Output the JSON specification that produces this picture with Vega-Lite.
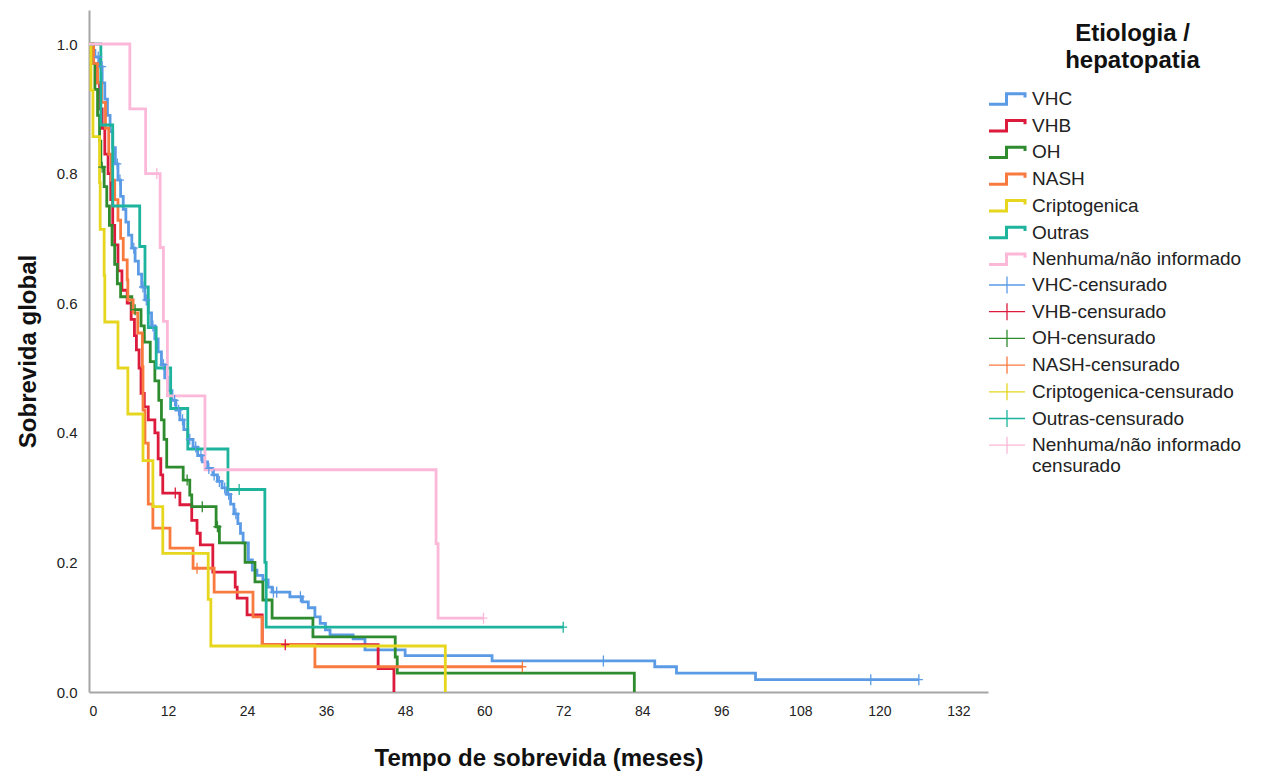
{
  "$schema": "https://vega.github.io/schema/vega-lite/v6.json",
  "autosize": "none",
  "width": 899,
  "height": 682,
  "padding": {"left": 89, "top": 10, "right": 263, "bottom": 79},
  "background": "white",
  "config": {
    "view": {"stroke": null},
    "font": "Liberation Sans",
    "axis": {"grid": false, "ticks": false, "domainColor": "#a6a6a6", "domainWidth": 2, "labelColor": "#222222", "labelFont": "Liberation Sans", "titleFont": "Liberation Sans", "titleFontWeight": "bold", "titleColor": "#111111", "titleFontSize": 24}
  },
  "datasets": {
    "curvas": [
      {"g":"VHC","t":0,"s":1},{"g":"VHC","t":0.5,"s":0.99},{"g":"VHC","t":0.9,"s":0.98},{"g":"VHC","t":1.5,"s":0.965},{"g":"VHC","t":2.0,"s":0.94},{"g":"VHC","t":2.4,"s":0.915},{"g":"VHC","t":2.8,"s":0.89},{"g":"VHC","t":3.2,"s":0.865},{"g":"VHC","t":3.6,"s":0.84},{"g":"VHC","t":4.0,"s":0.815},{"g":"VHC","t":4.4,"s":0.79},{"g":"VHC","t":4.8,"s":0.765},{"g":"VHC","t":5.2,"s":0.745},{"g":"VHC","t":5.6,"s":0.725},{"g":"VHC","t":6.0,"s":0.705},{"g":"VHC","t":6.5,"s":0.685},{"g":"VHC","t":7.0,"s":0.665},{"g":"VHC","t":7.5,"s":0.645},{"g":"VHC","t":8.0,"s":0.625},{"g":"VHC","t":8.5,"s":0.605},{"g":"VHC","t":9.0,"s":0.585},{"g":"VHC","t":9.5,"s":0.565},{"g":"VHC","t":10.0,"s":0.545},{"g":"VHC","t":10.5,"s":0.525},{"g":"VHC","t":11.0,"s":0.505},{"g":"VHC","t":11.5,"s":0.485},{"g":"VHC","t":12.0,"s":0.465},{"g":"VHC","t":12.6,"s":0.45},{"g":"VHC","t":13.2,"s":0.435},{"g":"VHC","t":13.8,"s":0.42},{"g":"VHC","t":14.4,"s":0.405},{"g":"VHC","t":15.0,"s":0.39},{"g":"VHC","t":15.8,"s":0.378},{"g":"VHC","t":16.5,"s":0.365},{"g":"VHC","t":17.2,"s":0.355},{"g":"VHC","t":18.0,"s":0.345},{"g":"VHC","t":18.8,"s":0.335},{"g":"VHC","t":19.5,"s":0.325},{"g":"VHC","t":20.2,"s":0.315},{"g":"VHC","t":20.9,"s":0.305},{"g":"VHC","t":21.5,"s":0.29},{"g":"VHC","t":22.0,"s":0.275},{"g":"VHC","t":22.6,"s":0.26},{"g":"VHC","t":23.0,"s":0.245},{"g":"VHC","t":23.4,"s":0.23},{"g":"VHC","t":24.2,"s":0.204},{"g":"VHC","t":24.8,"s":0.188},{"g":"VHC","t":25.5,"s":0.18},{"g":"VHC","t":26.4,"s":0.173},{"g":"VHC","t":27.2,"s":0.162},{"g":"VHC","t":27.8,"s":0.154},{"g":"VHC","t":30.5,"s":0.147},{"g":"VHC","t":32.4,"s":0.139},{"g":"VHC","t":33.3,"s":0.13},{"g":"VHC","t":34.3,"s":0.116},{"g":"VHC","t":35.1,"s":0.106},{"g":"VHC","t":35.9,"s":0.096},{"g":"VHC","t":36.6,"s":0.088},{"g":"VHC","t":40.1,"s":0.082},{"g":"VHC","t":41.9,"s":0.065},{"g":"VHC","t":48.0,"s":0.056},{"g":"VHC","t":61.2,"s":0.048},{"g":"VHC","t":85.9,"s":0.039},{"g":"VHC","t":89.2,"s":0.029},{"g":"VHC","t":101.2,"s":0.019},{"g":"VHC","t":126.0,"s":0.019},
      {"g":"VHB","t":0,"s":1},{"g":"VHB","t":0.6,"s":0.97},{"g":"VHB","t":1.1,"s":0.94},{"g":"VHB","t":1.6,"s":0.9},{"g":"VHB","t":2.0,"s":0.87},{"g":"VHB","t":2.4,"s":0.83},{"g":"VHB","t":2.9,"s":0.8},{"g":"VHB","t":3.3,"s":0.76},{"g":"VHB","t":3.6,"s":0.72},{"g":"VHB","t":3.9,"s":0.69},{"g":"VHB","t":4.4,"s":0.65},{"g":"VHB","t":5.0,"s":0.62},{"g":"VHB","t":5.8,"s":0.6},{"g":"VHB","t":6.4,"s":0.575},{"g":"VHB","t":6.9,"s":0.55},{"g":"VHB","t":7.2,"s":0.528},{"g":"VHB","t":7.6,"s":0.5},{"g":"VHB","t":7.9,"s":0.461},{"g":"VHB","t":8.4,"s":0.44},{"g":"VHB","t":9.0,"s":0.42},{"g":"VHB","t":10.0,"s":0.4},{"g":"VHB","t":10.5,"s":0.36},{"g":"VHB","t":10.9,"s":0.335},{"g":"VHB","t":11.2,"s":0.307},{"g":"VHB","t":13.8,"s":0.289},{"g":"VHB","t":15.6,"s":0.265},{"g":"VHB","t":16.4,"s":0.245},{"g":"VHB","t":16.9,"s":0.227},{"g":"VHB","t":18.8,"s":0.185},{"g":"VHB","t":22.2,"s":0.162},{"g":"VHB","t":22.5,"s":0.145},{"g":"VHB","t":24.0,"s":0.119},{"g":"VHB","t":26.3,"s":0.073},{"g":"VHB","t":43.9,"s":0.036},{"g":"VHB","t":46.3,"s":0},
      {"g":"OH","t":0,"s":1},{"g":"OH","t":0.5,"s":0.97},{"g":"OH","t":0.9,"s":0.93},{"g":"OH","t":1.3,"s":0.89},{"g":"OH","t":1.6,"s":0.85},{"g":"OH","t":1.8,"s":0.81},{"g":"OH","t":2.3,"s":0.78},{"g":"OH","t":2.7,"s":0.75},{"g":"OH","t":3.1,"s":0.72},{"g":"OH","t":3.5,"s":0.69},{"g":"OH","t":3.9,"s":0.66},{"g":"OH","t":4.3,"s":0.63},{"g":"OH","t":4.8,"s":0.61},{"g":"OH","t":6.5,"s":0.59},{"g":"OH","t":7.9,"s":0.565},{"g":"OH","t":8.4,"s":0.54},{"g":"OH","t":9.3,"s":0.51},{"g":"OH","t":10.0,"s":0.48},{"g":"OH","t":10.6,"s":0.45},{"g":"OH","t":11.0,"s":0.42},{"g":"OH","t":11.4,"s":0.39},{"g":"OH","t":11.8,"s":0.347},{"g":"OH","t":14.3,"s":0.327},{"g":"OH","t":15.3,"s":0.304},{"g":"OH","t":15.6,"s":0.286},{"g":"OH","t":19.3,"s":0.255},{"g":"OH","t":19.8,"s":0.23},{"g":"OH","t":23.7,"s":0.2},{"g":"OH","t":25.2,"s":0.17},{"g":"OH","t":26.4,"s":0.142},{"g":"OH","t":27.8,"s":0.114},{"g":"OH","t":34.0,"s":0.085},{"g":"OH","t":46.5,"s":0.054},{"g":"OH","t":46.8,"s":0.029},{"g":"OH","t":82.8,"s":0},
      {"g":"NASH","t":0,"s":1},{"g":"NASH","t":0.7,"s":0.97},{"g":"NASH","t":1.3,"s":0.94},{"g":"NASH","t":1.9,"s":0.91},{"g":"NASH","t":2.5,"s":0.87},{"g":"NASH","t":3.0,"s":0.83},{"g":"NASH","t":3.4,"s":0.79},{"g":"NASH","t":3.9,"s":0.76},{"g":"NASH","t":4.4,"s":0.728},{"g":"NASH","t":4.8,"s":0.7},{"g":"NASH","t":5.2,"s":0.667},{"g":"NASH","t":5.8,"s":0.636},{"g":"NASH","t":5.9,"s":0.605},{"g":"NASH","t":6.7,"s":0.585},{"g":"NASH","t":7.4,"s":0.554},{"g":"NASH","t":8.1,"s":0.502},{"g":"NASH","t":8.2,"s":0.435},{"g":"NASH","t":8.5,"s":0.384},{"g":"NASH","t":9.0,"s":0.29},{"g":"NASH","t":9.7,"s":0.253},{"g":"NASH","t":12.3,"s":0.222},{"g":"NASH","t":15.8,"s":0.191},{"g":"NASH","t":19.0,"s":0.154},{"g":"NASH","t":24.9,"s":0.116},{"g":"NASH","t":26.3,"s":0.073},{"g":"NASH","t":34.3,"s":0.039},{"g":"NASH","t":65.8,"s":0.039},
      {"g":"Criptogenica","t":0,"s":1},{"g":"Criptogenica","t":0.3,"s":0.929},{"g":"Criptogenica","t":0.6,"s":0.857},{"g":"Criptogenica","t":1.6,"s":0.786},{"g":"Criptogenica","t":1.7,"s":0.714},{"g":"Criptogenica","t":2.3,"s":0.643},{"g":"Criptogenica","t":2.4,"s":0.571},{"g":"Criptogenica","t":4.4,"s":0.5},{"g":"Criptogenica","t":5.9,"s":0.429},{"g":"Criptogenica","t":8.2,"s":0.357},{"g":"Criptogenica","t":9.7,"s":0.286},{"g":"Criptogenica","t":11.2,"s":0.214},{"g":"Criptogenica","t":18.1,"s":0.143},{"g":"Criptogenica","t":18.5,"s":0.071},{"g":"Criptogenica","t":54.1,"s":0},
      {"g":"Outras","t":0,"s":1},{"g":"Outras","t":1.8,"s":0.875},{"g":"Outras","t":3.6,"s":0.75},{"g":"Outras","t":7.7,"s":0.6875},{"g":"Outras","t":8.5,"s":0.625},{"g":"Outras","t":9.0,"s":0.5625},{"g":"Outras","t":10.2,"s":0.5},{"g":"Outras","t":12.4,"s":0.4375},{"g":"Outras","t":15.0,"s":0.375},{"g":"Outras","t":21.1,"s":0.3125},{"g":"Outras","t":26.7,"s":0.2},{"g":"Outras","t":26.9,"s":0.1},{"g":"Outras","t":72.0,"s":0.1},
      {"g":"Nenhuma/não informado","t":0,"s":1},{"g":"Nenhuma/não informado","t":6.2,"s":0.9},{"g":"Nenhuma/não informado","t":8.6,"s":0.8},{"g":"Nenhuma/não informado","t":10.8,"s":0.686},{"g":"Nenhuma/não informado","t":11.3,"s":0.572},{"g":"Nenhuma/não informado","t":11.9,"s":0.457},{"g":"Nenhuma/não informado","t":17.6,"s":0.343},{"g":"Nenhuma/não informado","t":52.7,"s":0.229},{"g":"Nenhuma/não informado","t":53.0,"s":0.114},{"g":"Nenhuma/não informado","t":59.9,"s":0.114}
    ],
    "censuras": [
      {"g":"VHC-censurado","t":1.4,"s":0.98},{"g":"VHC-censurado","t":2.0,"s":0.965},{"g":"VHC-censurado","t":4.3,"s":0.815},{"g":"VHC-censurado","t":4.7,"s":0.79},{"g":"VHC-censurado","t":6.8,"s":0.685},{"g":"VHC-censurado","t":8.2,"s":0.625},{"g":"VHC-censurado","t":8.7,"s":0.605},{"g":"VHC-censurado","t":9.7,"s":0.565},{"g":"VHC-censurado","t":11.3,"s":0.505},{"g":"VHC-censurado","t":13.0,"s":0.45},{"g":"VHC-censurado","t":13.6,"s":0.435},{"g":"VHC-censurado","t":14.2,"s":0.42},{"g":"VHC-censurado","t":15.3,"s":0.39},{"g":"VHC-censurado","t":16.2,"s":0.378},{"g":"VHC-censurado","t":17.0,"s":0.365},{"g":"VHC-censurado","t":18.2,"s":0.345},{"g":"VHC-censurado","t":19.0,"s":0.335},{"g":"VHC-censurado","t":19.8,"s":0.325},{"g":"VHC-censurado","t":20.6,"s":0.315},{"g":"VHC-censurado","t":21.2,"s":0.305},{"g":"VHC-censurado","t":22.3,"s":0.275},{"g":"VHC-censurado","t":28.0,"s":0.154},{"g":"VHC-censurado","t":28.5,"s":0.154},{"g":"VHC-censurado","t":32.1,"s":0.147},{"g":"VHC-censurado","t":78.1,"s":0.048},{"g":"VHC-censurado","t":118.7,"s":0.019},{"g":"VHC-censurado","t":126.0,"s":0.019},
      {"g":"VHB-censurado","t":13.1,"s":0.307},{"g":"VHB-censurado","t":29.8,"s":0.073},
      {"g":"OH-censurado","t":2.0,"s":0.81},{"g":"OH-censurado","t":7.0,"s":0.59},{"g":"OH-censurado","t":14.9,"s":0.327},{"g":"OH-censurado","t":17.2,"s":0.286},{"g":"OH-censurado","t":19.5,"s":0.255},
      {"g":"NASH-censurado","t":16.4,"s":0.191},{"g":"NASH-censurado","t":65.8,"s":0.039},
      {"g":"Outras-censurado","t":22.8,"s":0.3125},{"g":"Outras-censurado","t":72.0,"s":0.1},
      {"g":"Nenhuma/não informado-censurado","t":10.3,"s":0.8},{"g":"Nenhuma/não informado-censurado","t":59.9,"s":0.114}
    ]
  },
  "encoding": {
    "x": {"field": "t", "type": "quantitative", "scale": {"domain": [0, 136.5], "nice": false}, "axis": {"values": [0,12,24,36,48,60,72,84,96,108,120,132], "title": "Tempo de sobrevida (meses)", "labelFontSize": 14, "labelPadding": 12, "titlePadding": 28}},
    "y": {"field": "s", "type": "quantitative", "scale": {"domain": [0, 1.0525], "nice": false}, "axis": {"values": [0,0.2,0.4,0.6,0.8,1.0], "format": ".1f", "title": "Sobrevida global", "labelFontSize": 15, "labelPadding": 12, "titlePadding": 16}}
  },
  "layer": [
    {
      "data": {"name": "curvas"},
      "mark": {"type": "line", "interpolate": "step-after", "strokeWidth": 2.8},
      "encoding": {
        "color": {"field": "g", "type": "nominal",
          "scale": {
            "domain": ["VHC","VHB","OH","NASH","Criptogenica","Outras","Nenhuma/não informado"],
            "range": ["#5b9be6","#dc1a3c","#2e8b2e","#f97a3e","#e6d61e","#1db39c","#fbb8d8"]
          },
          "legend": {
            "title": ["Etiologia /", "hepatopatia"],
            "orient": "none",
            "legendX": 908.5,
            "legendY": 11.5,
            "titleFontSize": 24,
            "titleFontWeight": "bold",
            "titleColor": "#111111",
            "titleAnchor": "middle",
            "titleAlign": "center",
            "titleBaseline": "top",
            "titleLineHeight": 27,
            "titleLimit": 400,
            "titlePadding": 17,
            "labelFontSize": 19,
            "labelColor": "#222222",
            "labelLimit": 400,
            "labelOffset": 15.5,
            "rowPadding": 3.7,
            "symbolType": "M-3.8,1.1H-0.1V-1.1H3.8V-0.3",
            "symbolSize": 90,
            "symbolStrokeWidth": 3,
            "symbolOffset": 0,
            "encode": {
              "symbols": {"update": {"fill": {"value": "transparent"}}},
              "title": {"update": {"dx": {"value": 13}}}
            }
          }
        }
      }
    },
    {
      "data": {"name": "censuras"},
      "mark": {"type": "point", "shape": "M-0.8,0H0.8M0,-1.1V1.1", "filled": false, "size": 100, "strokeWidth": 1.3, "opacity": 1},
      "encoding": {
        "stroke": {"field": "g", "type": "nominal",
          "scale": {
            "domain": ["VHC-censurado","VHB-censurado","OH-censurado","NASH-censurado","Criptogenica-censurado","Outras-censurado","Nenhuma/não informado-censurado"],
            "range": ["#5b9be6","#dc1a3c","#2e8b2e","#f97a3e","#e6d61e","#1db39c","#fbb8d8"]
          },
          "legend": {
            "title": null,
            "orient": "none",
            "legendX": 908.5,
            "legendY": 265.5,
            "labelFontSize": 19,
            "labelColor": "#222222",
            "labelLimit": 400,
            "labelOffset": 15.5,
            "rowPadding": 3.7,
            "symbolType": "M-3.8,0H3.8M0,-1.8V1.8",
            "symbolSize": 90,
            "symbolStrokeWidth": 1.3,
            "symbolOffset": 0,
            "labelExpr": "datum.value == 'Nenhuma/não informado-censurado' ? ['Nenhuma/não informado', 'censurado'] : datum.label",
            "encode": {
              "symbols": {"update": {"fill": {"value": "transparent"}}},
              "labels": {"update": {"lineHeight": {"value": 22}}}
            }
          }
        }
      }
    }
  ]
}
